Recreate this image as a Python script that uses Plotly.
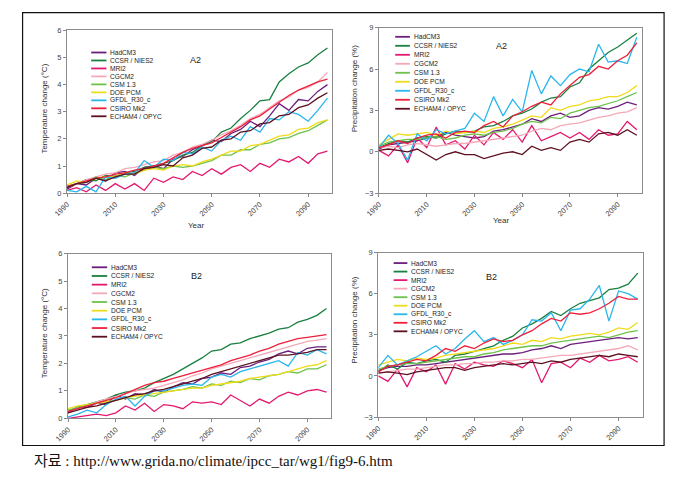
import plotly.graph_objects as go

# page is 676x483; the browser body keeps its 8px margin, so the figure is 660x467
PAGE_W, PAGE_H, OFF = 676, 483, 8
FW, FH = PAGE_W - 2 * OFF, PAGE_H - 2 * OFF

YEARS = list(range(1990, 2099, 4))  # 1990 .. 2098

MODELS = ["HadCM3", "CCSR / NIES2", "MRI2", "CGCM2", "CSM 1.3", "DOE PCM",
          "GFDL_R30_c", "CSIRO Mk2", "ECHAM4 / OPYC"]

# ---------------- A2 temperature change (degC) ----------------
A2_T_HADCM3 = [0.15,0.35,0.3,0.55,0.45,0.75,0.8,0.65,0.95,1.0,0.9,1.25,1.35,1.6,1.75,1.95,1.9,2.2,2.35,2.65,2.45,2.85,3.3,3.05,3.45,3.4,3.75,4.0]
A2_T_CCSR   = [0.25,0.35,0.5,0.45,0.65,0.6,0.75,0.8,0.95,1.0,1.1,1.2,1.4,1.5,1.75,1.9,2.25,2.4,2.75,3.05,3.4,3.45,4.1,4.4,4.65,4.8,5.1,5.35]
A2_T_MRI2   = [0.1,0.2,0.05,0.3,0.1,0.35,0.15,0.35,0.1,0.55,0.4,0.6,0.5,0.8,0.65,0.9,0.7,0.95,1.05,0.8,1.1,0.95,1.25,1.15,1.35,1.1,1.45,1.55]
A2_T_CGCM2  = [0.2,0.35,0.5,0.6,0.7,0.75,0.9,0.95,1.05,1.15,1.2,1.4,1.5,1.7,1.8,1.95,2.15,2.3,2.5,2.75,2.9,3.15,3.4,3.55,3.8,3.9,4.1,4.45]
A2_T_CSM    = [0.2,0.35,0.4,0.6,0.5,0.65,0.6,0.75,0.85,0.95,0.9,1.0,0.95,1.0,1.1,1.2,1.4,1.4,1.6,1.6,1.8,1.85,2.0,2.05,2.2,2.3,2.5,2.7]
A2_T_DOE    = [0.3,0.45,0.4,0.55,0.6,0.6,0.75,0.7,0.85,0.9,0.85,1.0,1.05,1.0,1.15,1.25,1.4,1.55,1.55,1.75,1.8,1.95,2.1,2.15,2.35,2.4,2.6,2.7]
A2_T_GFDL   = [0.1,0.05,0.25,0.05,0.6,0.55,0.7,0.75,1.2,0.95,1.25,1.2,1.5,1.45,1.7,1.55,1.95,2.1,1.95,2.45,2.25,2.75,2.7,3.0,2.9,2.65,3.05,3.5]
A2_T_CSIRO  = [0.25,0.35,0.45,0.55,0.6,0.7,0.75,0.85,0.9,1.0,1.1,1.3,1.5,1.65,1.75,1.85,2.05,2.25,2.45,2.7,2.85,3.1,3.35,3.6,3.8,3.95,4.1,4.2]
A2_T_ECHAM  = [0.2,0.35,0.4,0.55,0.45,0.6,0.7,0.7,0.9,0.95,1.05,1.0,1.3,1.4,1.65,1.7,1.95,2.0,2.25,2.3,2.55,2.6,2.85,2.9,3.15,3.25,3.5,3.7]

# ---------------- A2 precipitation change (%) ----------------
A2_P_HADCM3 = [0.2,0.5,0.6,0.7,0.8,1.0,1.1,1.4,1.2,1.1,1.0,1.1,1.5,1.6,1.8,2.0,2.4,2.2,2.6,2.8,2.5,2.6,3.0,3.2,3.1,3.3,3.6,3.4]
A2_P_CCSR   = [0.3,0.6,0.8,0.7,1.0,1.1,1.0,1.3,1.5,1.4,1.5,1.8,1.9,2.2,2.6,2.8,3.1,3.6,3.9,4.0,4.7,5.0,6.0,6.6,7.2,7.6,8.1,8.6]
A2_P_MRI2   = [0.1,-0.3,0.5,-0.8,1.0,0.3,1.8,0.5,0.8,0.2,1.2,0.5,1.4,0.9,1.6,0.7,1.9,0.8,1.1,1.4,1.0,1.4,0.9,1.6,1.2,1.3,2.2,1.6]
A2_P_CGCM2  = [0.3,0.4,0.3,0.5,0.6,0.5,0.4,0.5,0.6,0.6,0.7,0.8,0.9,1.0,1.1,1.2,1.5,1.7,1.6,1.9,2.0,2.1,2.3,2.5,2.6,2.8,2.9,3.2]
A2_P_CSM    = [0.4,0.7,0.8,0.9,0.9,1.0,1.1,0.9,1.0,1.2,1.3,1.2,1.4,1.5,1.7,2.0,2.2,2.1,2.5,2.4,2.8,3.0,3.2,3.3,3.5,3.7,4.0,4.3]
A2_P_DOE    = [0.5,0.9,1.3,1.2,1.3,1.4,1.2,1.5,1.3,1.4,1.5,1.4,1.7,1.8,2.0,2.3,2.6,2.5,3.2,3.0,3.3,3.4,3.7,3.8,4.0,4.0,4.3,4.8]
A2_P_GFDL   = [0.3,1.2,0.6,-0.6,1.3,0.8,1.6,1.3,1.5,1.7,2.8,2.2,4.0,2.6,3.8,2.9,5.9,4.2,5.5,4.8,5.6,6.0,5.8,7.8,6.5,6.6,6.4,8.3]
A2_P_CSIRO  = [0.3,0.5,0.8,0.6,1.0,1.2,1.3,1.0,1.4,1.5,1.4,1.9,2.2,1.8,2.6,2.9,3.3,3.6,3.4,4.2,4.8,5.4,5.6,6.2,6.0,6.6,7.0,7.9]
A2_P_ECHAM  = [0.1,0.2,0.1,0.0,0.2,-0.2,-0.6,-0.2,0.0,-0.2,-0.2,-0.5,-0.3,-0.1,0.0,-0.2,0.4,0.1,0.3,0.1,0.7,0.9,0.7,1.3,1.4,1.2,1.6,1.2]

# ---------------- B2 temperature change (degC) ----------------
B2_T_HADCM3 = [0.2,0.4,0.4,0.55,0.5,0.85,0.7,0.9,0.85,1.05,0.95,1.15,1.3,1.25,1.45,1.5,1.65,1.6,1.85,1.9,2.05,2.15,2.35,2.45,2.35,2.55,2.6,2.6]
B2_T_CCSR   = [0.25,0.4,0.5,0.6,0.7,0.85,0.95,1.0,1.1,1.3,1.45,1.6,1.8,2.0,2.2,2.45,2.5,2.7,2.75,2.9,3.0,3.1,3.25,3.3,3.5,3.6,3.75,4.0]
B2_T_MRI2   = [0.0,0.05,0.1,0.15,0.1,0.2,0.45,0.3,0.55,0.25,0.5,0.45,0.35,0.6,0.55,0.6,0.5,0.85,0.65,0.45,0.7,0.55,0.8,0.95,0.85,1.0,1.05,0.95]
B2_T_CGCM2  = [0.25,0.35,0.45,0.6,0.7,0.8,0.9,1.0,1.05,1.1,1.2,1.3,1.4,1.55,1.65,1.8,1.9,2.0,2.1,2.2,2.3,2.4,2.5,2.6,2.7,2.8,2.85,2.9]
B2_T_CSM    = [0.3,0.4,0.5,0.55,0.6,0.65,0.75,0.7,0.85,0.8,0.95,1.0,1.05,1.15,1.1,1.25,1.2,1.35,1.3,1.45,1.4,1.55,1.6,1.7,1.65,1.8,1.8,1.95]
B2_T_DOE    = [0.35,0.45,0.5,0.55,0.6,0.65,0.75,0.8,0.85,0.9,0.95,1.0,1.05,1.1,1.1,1.2,1.25,1.3,1.35,1.45,1.5,1.55,1.6,1.7,1.8,1.9,1.95,2.1]
B2_T_GFDL   = [0.05,0.15,0.3,0.2,0.5,0.7,0.8,0.45,0.8,1.0,1.0,1.1,1.2,1.25,1.2,1.5,1.6,1.5,1.7,1.8,1.9,2.0,2.1,1.9,2.4,2.3,2.5,2.35]
B2_T_CSIRO  = [0.25,0.35,0.45,0.55,0.65,0.75,0.9,1.05,1.2,1.3,1.35,1.45,1.55,1.65,1.75,1.85,1.95,2.1,2.2,2.3,2.45,2.55,2.7,2.8,2.9,2.95,3.0,3.05]
B2_T_ECHAM  = [0.2,0.3,0.4,0.45,0.55,0.65,0.75,0.85,0.9,1.0,1.05,1.15,1.25,1.35,1.45,1.6,1.7,1.8,1.9,2.0,2.1,2.2,2.3,2.3,2.35,2.4,2.5,2.5]

# ---------------- B2 precipitation change (%) ----------------
B2_P_HADCM3 = [0.4,0.6,0.7,0.7,0.8,0.8,0.9,1.0,1.1,1.2,1.3,1.4,1.5,1.6,1.6,1.7,1.9,2.0,2.2,2.0,2.3,2.4,2.5,2.6,2.7,2.8,2.7,2.8]
B2_P_CCSR   = [0.3,0.8,0.5,1.0,0.9,1.1,1.2,1.0,1.5,1.6,1.8,2.0,2.2,2.6,2.9,3.5,3.8,4.2,4.7,4.4,4.9,5.3,5.5,5.7,6.3,6.4,6.7,7.5]
B2_P_MRI2   = [0.0,-0.4,0.5,-0.8,0.6,0.3,0.8,-0.6,0.9,0.5,1.0,0.8,0.7,1.1,0.9,0.6,1.2,-0.5,0.9,1.0,0.6,1.3,1.0,1.5,1.1,1.2,1.4,1.0]
B2_P_CGCM2  = [0.2,0.3,0.4,0.5,0.5,0.6,0.7,0.8,0.8,0.9,0.9,1.0,1.0,1.1,1.1,1.2,1.2,1.3,1.4,1.5,1.5,1.6,1.7,1.8,1.9,2.0,2.2,1.9]
B2_P_CSM    = [0.5,0.7,0.8,0.9,0.9,1.0,1.1,1.2,1.3,1.4,1.4,1.6,1.7,1.9,2.0,2.1,2.2,2.2,2.4,2.5,2.6,2.7,2.8,2.9,2.8,3.0,3.2,3.3]
B2_P_DOE    = [0.8,1.0,1.2,1.1,1.3,1.2,1.3,1.5,1.6,1.7,1.8,1.9,2.0,2.2,2.4,2.3,2.6,2.5,2.8,2.7,2.9,3.0,3.1,3.0,3.2,3.5,3.4,3.9]
B2_P_GFDL   = [0.6,1.5,0.8,1.1,1.4,1.8,2.2,1.6,2.0,2.7,3.3,2.5,2.8,2.3,2.6,3.0,4.1,4.0,4.6,3.3,4.8,4.9,5.6,6.6,4.0,6.2,6.0,5.6]
B2_P_CSIRO  = [0.3,0.7,0.8,1.0,1.2,1.1,1.5,2.0,1.8,2.2,2.0,2.4,2.7,2.5,2.6,3.0,3.3,3.8,4.2,4.0,4.6,4.5,4.6,4.9,5.3,5.8,5.6,5.6]
B2_P_ECHAM  = [0.2,0.3,0.2,0.1,0.3,0.4,0.5,0.6,0.6,0.4,0.6,0.7,0.8,0.9,0.8,0.9,1.0,0.9,1.1,1.0,1.2,1.3,1.4,1.5,1.4,1.6,1.5,1.4]

X_TICKS = [1990, 2010, 2030, 2050, 2070, 2090]
T_TICKS = [0, 1, 2, 3, 4, 5, 6]
P_TICKS = [-3, 0, 3, 6, 9]
SCENARIOS = ["A2", "A2", "B2", "B2"]
Y_TITLES = ["Temperature change (°C)", "Precipitation change (%)",
            "Temperature change (°C)", "Precipitation change (%)"]
CAPTION = "자료 : http://www.grida.no/climate/ipcc_tar/wg1/fig9-6.htm"

COLORS = ["#6b1f7b", "#1a8040", "#e3196f", "#f4a8b8", "#6cc24a",
          "#f0dc1a", "#29b6ec", "#ee1f3b", "#5c1020"]

PANELS = [
    [A2_T_HADCM3, A2_T_CCSR, A2_T_MRI2, A2_T_CGCM2, A2_T_CSM, A2_T_DOE, A2_T_GFDL, A2_T_CSIRO, A2_T_ECHAM],
    [A2_P_HADCM3, A2_P_CCSR, A2_P_MRI2, A2_P_CGCM2, A2_P_CSM, A2_P_DOE, A2_P_GFDL, A2_P_CSIRO, A2_P_ECHAM],
    [B2_T_HADCM3, B2_T_CCSR, B2_T_MRI2, B2_T_CGCM2, B2_T_CSM, B2_T_DOE, B2_T_GFDL, B2_T_CSIRO, B2_T_ECHAM],
    [B2_P_HADCM3, B2_P_CCSR, B2_P_MRI2, B2_P_CGCM2, B2_P_CSM, B2_P_DOE, B2_P_GFDL, B2_P_CSIRO, B2_P_ECHAM],
]


def fx(px):
    """page pixel x -> paper fraction"""
    return (px - OFF) / FW


def fy(py):
    """page pixel y -> paper fraction"""
    return 1 - (py - OFF) / FH


# page-pixel boxes of the 4 plot areas: (x0, x1, ytop, ybottom)
BOXES = [(54, 325, 26.7, 192.7), (372.7, 641, 24, 192.7),
         (55, 324, 254.3, 422.3), (372, 642, 253.3, 421)]
# legend layout: (line x0, line x1, text x, first row y, row step)
LEG = [(78.7, 94.3, 96, 49.3, 8.13), (389.3, 404.3, 406, 33.3, 9.17),
       (79.3, 95, 97, 268.3, 8.85), (387.7, 401.7, 403, 264, 8.7)]
SCEN_POS = [(185, 57.3), (497.7, 42.7), (186.7, 277), (487.7, 278.3)]
YT_POS = [(31, 107), (348, 86), (31, 336), (348, 322)]
YEAR_POS = [(186, 226), (498, 221)]

fig = go.Figure()
shapes = []
annotations = []
FONT = "Liberation Sans, Arial, sans-serif"

for p in range(4):
    sfx = "" if p == 0 else str(p + 1)
    for m, series in enumerate(PANELS[p]):
        fig.add_trace(go.Scatter(
            x=YEARS, y=series, mode="lines", name=MODELS[m],
            line=dict(color=COLORS[m], width=1.3),
            xaxis="x" + sfx, yaxis="y" + sfx, showlegend=False,
            hoverinfo="skip"))
    x0, x1, yt, yb = BOXES[p]
    is_t = p in (0, 2)
    fig.layout["xaxis" + sfx] = dict(
        domain=[fx(x0), fx(x1)], range=[1990, 2100], anchor="y" + sfx,
        tickvals=X_TICKS, tickangle=-45, ticks="outside", ticklen=3,
        tickcolor="#888", showline=True, linecolor="#8c8c8c", linewidth=1,
        mirror=True, showgrid=False, zeroline=False,
        tickfont=dict(family=FONT, size=7.5, color="#444"))
    fig.layout["yaxis" + sfx] = dict(
        domain=[fy(yb), fy(yt)], range=[0, 6] if is_t else [-3, 9],
        anchor="x" + sfx, tickvals=T_TICKS if is_t else P_TICKS,
        ticks="outside", ticklen=3, tickcolor="#888", showline=True,
        linecolor="#8c8c8c", linewidth=1, mirror=True, showgrid=False,
        zeroline=False, tickfont=dict(family=FONT, size=7.5, color="#444"))

    # legend (lines + labels)
    lx0, lx1, tx, ry, step = LEG[p]
    for m in range(len(MODELS)):
        yy = ry + m * step
        shapes.append(dict(type="line", xref="paper", yref="paper",
                           x0=fx(lx0), x1=fx(lx1), y0=fy(yy), y1=fy(yy),
                           line=dict(color=COLORS[m], width=1.8)))
        annotations.append(dict(xref="paper", yref="paper", x=fx(tx), y=fy(yy),
                                xanchor="left", yanchor="middle", showarrow=False,
                                text=MODELS[m],
                                font=dict(family=FONT, size=6.6, color="#222")))
    sx, sy = SCEN_POS[p]
    annotations.append(dict(xref="paper", yref="paper", x=fx(sx), y=fy(sy),
                            xanchor="center", yanchor="middle", showarrow=False,
                            text=SCENARIOS[p],
                            font=dict(family=FONT, size=9, color="#222")))
    yx, yy = YT_POS[p]
    annotations.append(dict(xref="paper", yref="paper", x=fx(yx), y=fy(yy),
                            xanchor="center", yanchor="middle", showarrow=False,
                            textangle=-90, text=Y_TITLES[p],
                            font=dict(family=FONT, size=8, color="#333")))

for (ax_, ay_) in YEAR_POS:
    annotations.append(dict(xref="paper", yref="paper", x=fx(ax_), y=fy(ay_),
                            xanchor="center", yanchor="middle", showarrow=False,
                            text="Year", font=dict(family=FONT, size=8, color="#333")))

# outer frame
shapes.append(dict(type="rect", xref="paper", yref="paper",
                   x0=fx(8.6), x1=fx(664), y0=fy(450), y1=fy(8.6),
                   line=dict(color="#111", width=1.2)))

annotations.append(dict(xref="paper", yref="paper", x=fx(18), y=fy(466),
                        xanchor="left", yanchor="middle", showarrow=False,
                        text=CAPTION,
                        font=dict(family="Liberation Serif, Noto Sans CJK KR, serif",
                                  size=15, color="#111")))

fig.update_layout(width=FW, height=FH, margin=dict(l=0, r=0, t=0, b=0),
                  paper_bgcolor="white", plot_bgcolor="white",
                  shapes=shapes, annotations=annotations, showlegend=False,
                  hovermode=False)

fig.write_html("out.html", config={"displayModeBar": False, "staticPlot": True})
